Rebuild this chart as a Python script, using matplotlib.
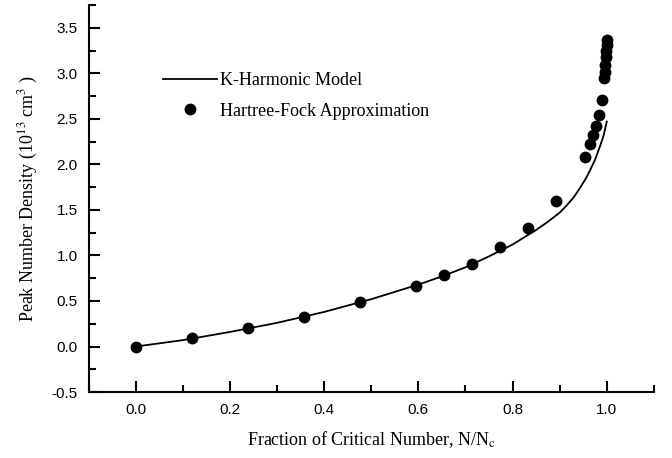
import matplotlib
matplotlib.use("Agg")
import matplotlib.pyplot as plt
from matplotlib.ticker import MultipleLocator

# K-Harmonic model curve
model_x = [0.0, 0.1, 0.2, 0.3, 0.4, 0.5, 0.6, 0.65, 0.7, 0.75, 0.8, 0.85, 0.875, 0.9,
           0.915, 0.93, 0.943, 0.955, 0.965, 0.975, 0.985, 0.993, 1.0]
model_y = [0.0, 0.07, 0.16, 0.26, 0.38, 0.52, 0.68, 0.77, 0.87, 0.99, 1.12, 1.28, 1.37, 1.47,
           1.55, 1.64, 1.74, 1.84, 1.94, 2.05, 2.19, 2.31, 2.47]

# Hartree-Fock approximation points
hf_x = [0.0, 0.119, 0.238, 0.357, 0.476, 0.594, 0.654, 0.713, 0.773, 0.832, 0.892,
        0.953, 0.965, 0.971, 0.978, 0.983, 0.989, 0.995, 0.996, 0.997, 0.998, 0.999,
        0.9995, 1.0]
hf_y = [0.0, 0.09, 0.20, 0.32, 0.485, 0.67, 0.78, 0.91, 1.09, 1.30, 1.60,
        2.08, 2.22, 2.32, 2.42, 2.54, 2.71, 2.95, 3.02, 3.09, 3.18, 3.24,
        3.31, 3.37]

plt.rcParams['mathtext.fontset'] = 'stix'

fig = plt.figure(figsize=(6.72, 4.58), dpi=100)
ax = fig.add_axes([0.132, 0.144, 0.841, 0.845])

ax.plot(model_x, model_y, color='black', lw=1.3, label='K-Harmonic Model')
ax.plot(hf_x, hf_y, 'o', color='black', ms=7.5, label='Hartree-Fock Approximation')

ax.set_xlim(-0.1, 1.1)
ax.set_ylim(-0.5, 3.75)
ax.xaxis.set_major_locator(MultipleLocator(0.2))
ax.xaxis.set_minor_locator(MultipleLocator(0.1))
ax.yaxis.set_major_locator(MultipleLocator(0.5))
ax.yaxis.set_minor_locator(MultipleLocator(0.25))
ax.set_xticks([0.0, 0.2, 0.4, 0.6, 0.8, 1.0])
ax.set_xticklabels(['0.0', '0.2', '0.4', '0.6', '0.8', '1.0'])
ax.set_yticks([-0.5, 0.0, 0.5, 1.0, 1.5, 2.0, 2.5, 3.0, 3.5])
ax.set_yticklabels(['-0.5', '0.0', '0.5', '1.0', '1.5', '2.0', '2.5', '3.0', '3.5'])

for s in ['top', 'right']:
    ax.spines[s].set_visible(False)
for s in ['left', 'bottom']:
    ax.spines[s].set_linewidth(1.5)

ax.tick_params(which='major', direction='in', length=8, width=1.5,
               labelsize=11, pad=8)
ax.tick_params(which='minor', direction='in', length=5, width=1.5)
for lab in ax.get_xticklabels() + ax.get_yticklabels():
    lab.set_fontfamily('Liberation Sans')

ax.set_xlabel('Fraction of Critical Number, N/N$_{\\rm c}$', fontfamily='Liberation Serif',
              fontsize=13, labelpad=9)
ax.set_ylabel('Peak Number Density (10$^{13}$ cm$^{3}$ )', fontfamily='Liberation Serif',
              fontsize=13, labelpad=8)

leg = ax.legend(loc='upper left', bbox_to_anchor=(0.118, 0.845), frameon=False,
                prop={'family': 'Liberation Serif', 'size': 13},
                handlelength=3.0, handletextpad=0.2, labelspacing=0.75, borderaxespad=0)

fig.savefig('out.png', dpi=100)
